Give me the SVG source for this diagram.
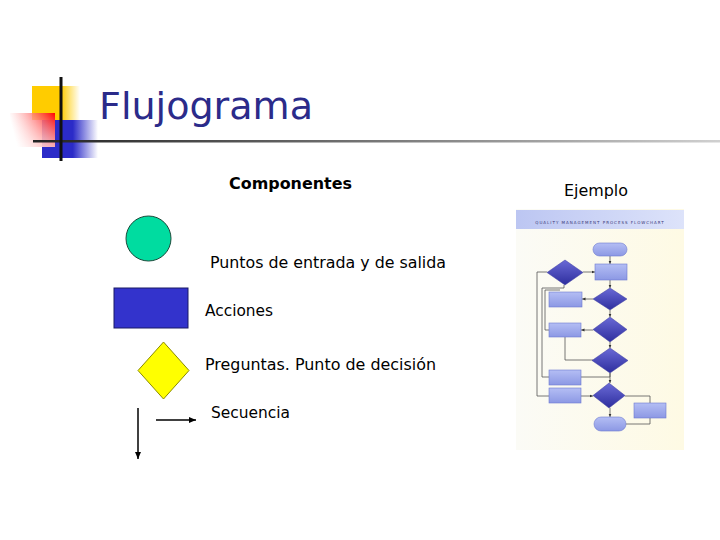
<svg xmlns="http://www.w3.org/2000/svg" width="720" height="540" viewBox="0 0 720 540">
<defs>
<linearGradient id="gYellow" x1="0" y1="0" x2="1" y2="0">
<stop offset="0" stop-color="#ffcc00"/><stop offset="0.6" stop-color="#ffcc00"/><stop offset="1" stop-color="#ffcc00" stop-opacity="0"/>
</linearGradient>
<linearGradient id="gRed" x1="0" y1="0.2" x2="1" y2="0">
<stop offset="0" stop-color="#ffffff" stop-opacity="0.6"/><stop offset="1" stop-color="#ff0000"/>
</linearGradient>
<linearGradient id="gRedV" x1="0" y1="0" x2="0" y2="1">
<stop offset="0" stop-color="#ffffff" stop-opacity="0"/><stop offset="1" stop-color="#ffffff" stop-opacity="0.6"/>
</linearGradient>
<linearGradient id="gBlue" x1="0" y1="0" x2="1" y2="0">
<stop offset="0" stop-color="#2b2bc8"/><stop offset="0.55" stop-color="#2b2bc8"/><stop offset="1" stop-color="#2b2bc8" stop-opacity="0"/>
</linearGradient>
<linearGradient id="gLine" x1="0" y1="0" x2="1" y2="0">
<stop offset="0" stop-color="#222222"/><stop offset="0.5" stop-color="#777777"/><stop offset="1" stop-color="#d0d0d0"/>
</linearGradient>
<linearGradient id="gHeader" x1="0" y1="0" x2="1" y2="0">
<stop offset="0" stop-color="#bcc6f2"/><stop offset="1" stop-color="#dde3fa"/>
</linearGradient>
<linearGradient id="gBg" x1="0" y1="0" x2="1" y2="0">
<stop offset="0" stop-color="#fbfbf6"/><stop offset="1" stop-color="#fefae4"/>
</linearGradient>
<linearGradient id="gDia" x1="0" y1="0" x2="0" y2="1">
<stop offset="0" stop-color="#6a6ad6"/><stop offset="1" stop-color="#2e2e9e"/>
</linearGradient>
<linearGradient id="gRect" x1="0" y1="0" x2="0" y2="1">
<stop offset="0" stop-color="#b4bef4"/><stop offset="1" stop-color="#8c98e4"/>
</linearGradient>
<marker id="arr" markerWidth="8" markerHeight="8" refX="7" refY="4" orient="auto" markerUnits="userSpaceOnUse">
<path d="M0,1 L7,4 L0,7 Z" fill="#000"/>
</marker>
<marker id="sarr" markerWidth="4" markerHeight="4" refX="3.5" refY="2" orient="auto" markerUnits="userSpaceOnUse">
<path d="M0,0.5 L3.5,2 L0,3.5 Z" fill="#333"/>
</marker>
</defs>
<style>
.lbl{font-family:"DejaVu Sans","Liberation Sans",sans-serif;font-size:16px;fill:#000}
.fl{fill:none;stroke:#555;stroke-width:0.8}
.dia{fill:url(#gDia);stroke:#3a3aa0;stroke-width:0.5}
.rc{fill:url(#gRect);stroke:#6d7ad0;stroke-width:0.6}
.term{fill:url(#gRect);stroke:#6d7ad0;stroke-width:0.6}
</style>
<rect width="720" height="540" fill="#ffffff"/>

<g id="title-decoration">
<rect x="32" y="86" width="48" height="34" fill="url(#gYellow)"/>
<rect x="42" y="120" width="56" height="38" fill="url(#gBlue)"/>
<rect x="10" y="113" width="45" height="34" fill="url(#gRed)"/>
<rect x="10" y="113" width="45" height="34" fill="url(#gRedV)"/>
<rect x="33" y="140" width="687" height="2.5" fill="url(#gLine)"/>
<rect x="59.5" y="77" width="3" height="84" fill="#111"/>
</g>
<g id="title">
<text x="99" y="119" font-family="'DejaVu Sans','Liberation Sans',sans-serif" font-size="38" fill="#2b2b8a" textLength="214" lengthAdjust="spacingAndGlyphs">Flujograma</text>
</g>

<g id="heading-componentes">
<text x="229" y="189" font-family="'DejaVu Sans','Liberation Sans',sans-serif" font-size="15" font-weight="bold" fill="#000" textLength="123" lengthAdjust="spacingAndGlyphs">Componentes</text>
</g>
<g id="heading-ejemplo">
<text x="564" y="196" font-family="'DejaVu Sans','Liberation Sans',sans-serif" font-size="16" fill="#000" textLength="64" lengthAdjust="spacingAndGlyphs">Ejemplo</text>
</g>

<g id="node-circle">
<circle cx="148.5" cy="238.5" r="22.5" fill="#00dca0" stroke="#1a4a3a" stroke-width="1"/>
<text class="lbl" x="210" y="268" textLength="236" lengthAdjust="spacingAndGlyphs">Puntos de entrada y de salida</text>
</g>
<g id="node-rect">
<rect x="114" y="288" width="74" height="40" fill="#3333cc" stroke="#1a1a66" stroke-width="1"/>
<text class="lbl" x="205" y="316" textLength="68" lengthAdjust="spacingAndGlyphs">Acciones</text>
</g>
<g id="node-diamond">
<polygon points="163.5,342 189,370.5 163.5,399 138,370.5" fill="#ffff00" stroke="#8a8a00" stroke-width="1"/>
<text class="lbl" x="205" y="370" textLength="231" lengthAdjust="spacingAndGlyphs">Preguntas. Punto de decisión</text>
</g>
<g id="node-secuencia">
<text class="lbl" x="211" y="418" textLength="79" lengthAdjust="spacingAndGlyphs">Secuencia</text>
</g>
<g id="connectors">
<line x1="156" y1="420" x2="196" y2="420" stroke="#000" stroke-width="1.5" marker-end="url(#arr)"/>
<line x1="138" y1="408" x2="138" y2="459" stroke="#000" stroke-width="1.5" marker-end="url(#arr)"/>
</g>

<g id="example">
<rect x="516" y="209" width="168" height="241" fill="url(#gBg)"/>
<rect x="516" y="210" width="168" height="19" fill="url(#gHeader)"/>
<text x="600" y="224" text-anchor="middle" font-family="'DejaVu Sans',sans-serif" font-size="4" letter-spacing="1" fill="#3a3a7a">QUALITY MANAGEMENT PROCESS FLOWCHART</text>
<g id="ex-lines">
<line class="fl" x1="610" y1="256" x2="610" y2="264" marker-end="url(#sarr)"/>
<line class="fl" x1="583" y1="272" x2="595" y2="272" marker-end="url(#sarr)"/>
<line class="fl" x1="610" y1="280" x2="610" y2="288" marker-end="url(#sarr)"/>
<line class="fl" x1="593" y1="299" x2="582" y2="299" marker-end="url(#sarr)"/>
<line class="fl" x1="610" y1="310" x2="610" y2="317" marker-end="url(#sarr)"/>
<line class="fl" x1="593" y1="330" x2="581" y2="330" marker-end="url(#sarr)"/>
<line class="fl" x1="610" y1="342" x2="610" y2="348" marker-end="url(#sarr)"/>
<polyline class="fl" points="593,360 565,360 565,337"/>
<polyline class="fl" points="610,373 610,377 581,377"/>
<line class="fl" x1="610" y1="373" x2="610" y2="383" marker-end="url(#sarr)"/>
<line class="fl" x1="581" y1="396" x2="593" y2="396" marker-end="url(#sarr)"/>
<polyline class="fl" points="625,396 650,396 650,403"/>
<polyline class="fl" points="650,418 650,424 626,424"/>
<line class="fl" x1="610" y1="408" x2="610" y2="417" marker-end="url(#sarr)"/>
<polyline class="fl" points="547,272 537,272 537,396 549,396"/>
<polyline class="fl" points="549,377 542,377 542,288 564,288 564,285"/>
<polyline class="fl" points="549,330 545,330 545,290 560,290"/>
</g>
<rect class="term" x="593" y="243" width="34" height="13" rx="6.5"/>
<rect class="rc" x="595" y="264" width="32" height="16"/>
<polygon class="dia" points="565,260 583,272.5 565,285 547,272.5"/>
<polygon class="dia" points="610,288 627,299 610,310 593,299"/>
<rect class="rc" x="549" y="292" width="33" height="15"/>
<polygon class="dia" points="610,317 627,329.5 610,342 593,329.5"/>
<rect class="rc" x="549" y="323" width="32" height="14"/>
<polygon class="dia" points="610,348 628,360.5 610,373 592,360.5"/>
<rect class="rc" x="549" y="370" width="32" height="15"/>
<polygon class="dia" points="609,383 625,395.5 609,408 593,395.5"/>
<rect class="rc" x="549" y="388" width="32" height="15"/>
<rect class="rc" x="634" y="403" width="32" height="15"/>
<rect class="term" x="594" y="417" width="32" height="14" rx="7"/>
</g>
</svg>
